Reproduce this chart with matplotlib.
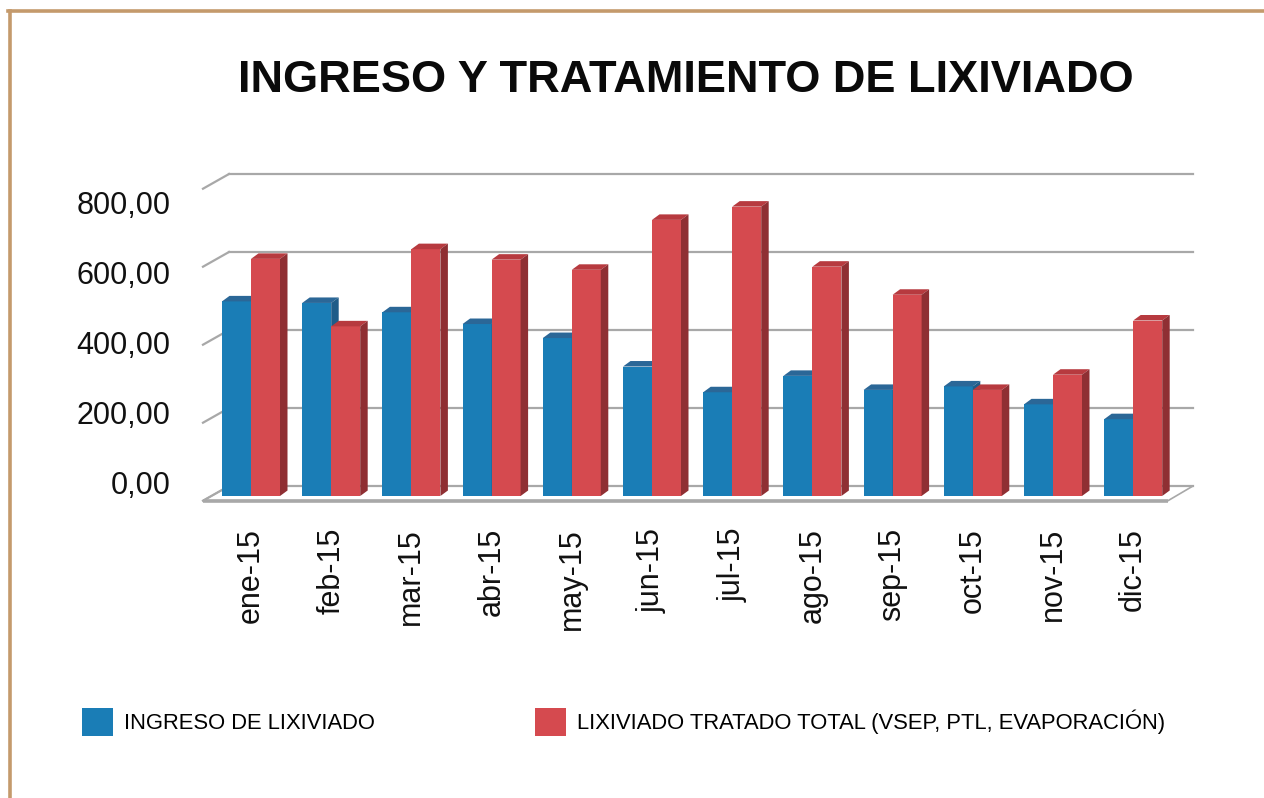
import matplotlib
matplotlib.use("Agg")
import matplotlib.pyplot as plt
from matplotlib.patches import Polygon, Rectangle
from matplotlib.lines import Line2D
from matplotlib.ticker import FuncFormatter

plt.rcParams["font.family"] = ["Liberation Sans", "DejaVu Sans"]

# data
months = ["ene-15", "feb-15", "mar-15", "abr-15", "may-15", "jun-15",
          "jul-15", "ago-15", "sep-15", "oct-15", "nov-15", "dic-15"]
ingreso = [499, 495, 471, 441, 405, 332, 266, 308, 272, 281, 235, 197]
tratado = [608, 435, 633, 606, 580, 708, 742, 588, 516, 272, 311, 450]
y_ticks = [0, 200, 400, 600, 800]

label_ingreso = "INGRESO DE LIXIVIADO"
label_tratado = "LIXIVIADO TRATADO TOTAL (VSEP, PTL, EVAPORACIÓN)"
title = "INGRESO Y TRATAMIENTO DE LIXIVIADO"

# colours: front / top / side faces
blue = ("#1a7db6", "#2b6797", "#1f5c88")
red = ("#d54a4f", "#b73a3f", "#8f2f33")
grid_c = "#a8a8a8"
frame_c = "#c49a6c"

W, H = 1264, 798
fig = plt.figure(figsize=(W / 100, H / 100), dpi=100)

# pixel geometry of the fake 3d box
PX_CAT = 80.2      # pixels per category
PX_VAL = 0.39      # pixels per value unit
X0_PIX = 251       # pixel x of category 0 (between the two bars)
Y0_PIX = 496       # pixel y of value 0 on the bar front plane


def fig_box(x0, y0, x1, y1):
    return [x0 / W, 1 - y1 / H, (x1 - x0) / W, (y1 - y0) / H]


ax = fig.add_axes(fig_box(150, 140, 1250, 515))
ax.set_xlim((150 - X0_PIX) / PX_CAT, (1250 - X0_PIX) / PX_CAT)
ax.set_ylim((Y0_PIX - 515) / PX_VAL, (Y0_PIX - 140) / PX_VAL)
ax.axis("off")

# depth offsets (data units)
bar_dx, bar_dy = 7.5 / PX_CAT, 5.5 / PX_VAL
wall_dx, wall_dy = 17.7 / PX_CAT, 10 / PX_VAL
front_dx, front_dy = -8.3 / PX_CAT, -4.7 / PX_VAL
wall_left = (229 - X0_PIX) / PX_CAT
wall_right = (1193 - X0_PIX) / PX_CAT
front_left = (203 - X0_PIX) / PX_CAT
front_right = (1168 - X0_PIX) / PX_CAT

# floor
ax.add_patch(Polygon([(front_left, front_dy), (front_right, front_dy),
                      (wall_right, wall_dy), (wall_left, wall_dy)],
                     closed=True, facecolor="white", edgecolor=grid_c,
                     lw=1.2, zorder=1))
ax.plot([front_left, front_right], [front_dy - 2, front_dy - 2],
        color=grid_c, lw=2.6, solid_capstyle="butt", zorder=1)

# back wall gridlines and left-edge diagonals
for g in y_ticks:
    ax.plot([wall_left, wall_right], [g + wall_dy, g + wall_dy],
            color=grid_c, lw=1.6, zorder=1)
    ax.plot([front_left, wall_left], [g + front_dy, g + wall_dy],
            color=grid_c, lw=1.6, zorder=1)

bw = 29 / PX_CAT


def draw_bar(x0, v, cols, z):
    x1 = x0 + bw
    ax.bar(x0, v, width=bw, align="edge", color=cols[0], lw=0, zorder=z)
    ax.add_patch(Polygon([(x0, v), (x1, v), (x1 + bar_dx, v + bar_dy),
                          (x0 + bar_dx, v + bar_dy)], closed=True,
                         facecolor=cols[1], lw=0, zorder=z))
    ax.add_patch(Polygon([(x1, 0), (x1, v), (x1 + bar_dx, v + bar_dy),
                          (x1 + bar_dx, bar_dy)], closed=True,
                         facecolor=cols[2], lw=0, zorder=z))


for i in range(len(months)):
    draw_bar(i - bw, ingreso[i], blue, 3 + i * 0.01)
    draw_bar(i, tratado[i], red, 3.005 + i * 0.01)

# month labels
for i, m in enumerate(months):
    ax.text(i, (Y0_PIX - 528) / PX_VAL, m, rotation=90, ha="center",
            va="top", fontsize=22, color="#111111")

# value axis labels on their own axes (Excel squeezes them a little)
lab = fig.add_axes(fig_box(180, 202.5, 181, 482.5))
lab.set_ylim(0, 800)
lab.set_yticks(y_ticks)
lab.yaxis.set_major_formatter(
    FuncFormatter(lambda v, p: f"{v:.2f}".replace(".", ",")))
lab.tick_params(axis="y", length=0, pad=7, labelsize=22, labelcolor="#111111")
lab.set_xticks([])
for s in lab.spines.values():
    s.set_visible(False)
lab.patch.set_alpha(0)

fig.text(685.5 / W, 1 - 81 / H, title, ha="center", va="center",
         fontsize=32.5, fontweight="bold", color="#0a0a0a")

handles = [Rectangle((0, 0), 1, 1, facecolor=blue[0], lw=0),
           Rectangle((0, 0), 1, 1, facecolor=red[0], lw=0)]
fig.legend(handles, [label_ingreso, label_tratado], ncol=2,
           loc="upper left", bbox_to_anchor=(82 / W, 1 - 708 / H),
           frameon=False, fontsize=15.8, borderpad=0, borderaxespad=0,
           handlelength=1.42, handleheight=1.6, handletextpad=0.5,
           columnspacing=7.3)

# tan frame on top and left
fig.add_artist(Line2D([8 / W, 1], [1 - 11 / H, 1 - 11 / H],
                      transform=fig.transFigure, color=frame_c, lw=2.6))
fig.add_artist(Line2D([9.5 / W, 9.5 / W], [0, 1 - 11 / H],
                      transform=fig.transFigure, color=frame_c, lw=2.6))

fig.savefig("out.png", dpi=100)
